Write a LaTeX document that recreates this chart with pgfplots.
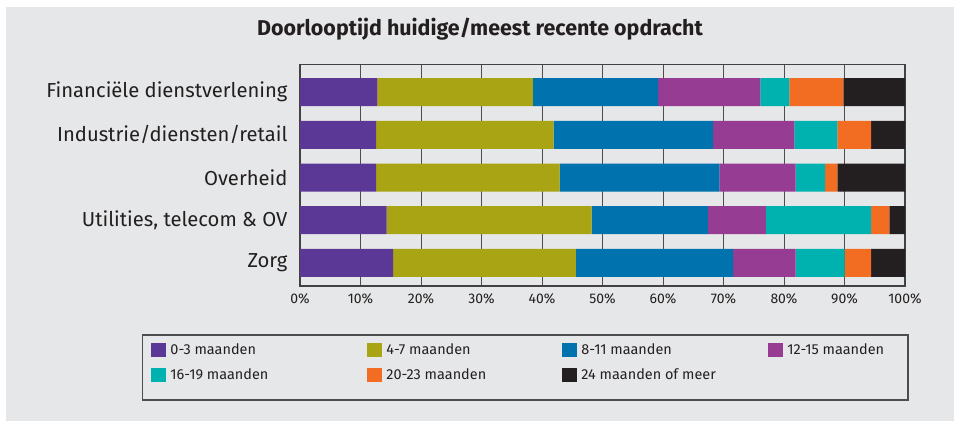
\documentclass[border=0pt]{standalone}
\usepackage{fontspec}
\setmainfont{Fira Sans}
\usepackage{pgfplots}
\pgfplotsset{compat=1.18}
\usepackage{pgfplotstable}

\definecolor{panel}{HTML}{E6E7E8}
\definecolor{inkk}{HTML}{231F20}
\definecolor{gridc}{HTML}{4D4D4F}
\definecolor{cA}{HTML}{5B3896}
\definecolor{cB}{HTML}{A9A413}
\definecolor{cC}{HTML}{0072AE}
\definecolor{cD}{HTML}{963C93}
\definecolor{cE}{HTML}{00B2AF}
\definecolor{cF}{HTML}{F26C22}
\definecolor{cG}{HTML}{231F20}

% y: 4 = Financiele (top) ... 0 = Zorg
\pgfplotstableread{
y   a     b     c     d     e     f    g
4   12.8  25.7  20.7  16.9  4.8   8.9  10.2
3   12.6  29.3  26.4  13.4  7.1   5.6  5.6
2   12.6  30.3  26.4  12.6  4.9   2.0  11.2
1   14.3  33.9  19.2  9.6   17.4  3.0  2.6
0   15.4  30.2  26.0  10.3  8.1   4.4  5.6
}\doorloop

\newcommand{\legbox}[2]{\makebox[#1bp][l]{#2}}

\begin{document}
\begin{tikzpicture}[x=1bp,y=1bp]
  % page and grey panel
  \fill[white] (0,0) rectangle (962,-421);
  \fill[panel] (6,-7) rectangle (954,-421);
  \node[font=\bfseries\fontsize{21.5}{25}\selectfont, text=inkk] at (480,-29) {Doorlooptijd huidige/meest recente opdracht};
  % legend frame
  \draw[gridc, line width=1.2bp] (142.5,-335) rectangle (908,-400);

  \begin{axis}[
    at={(300bp,-286bp)}, anchor=south west,
    scale only axis,
    width=605bp, height=221.7bp,
    xbar stacked,
    bar width=28bp,
    xmin=0, xmax=100,
    ymin=-0.54, ymax=4.65,
    xtick={0,10,...,100},
    xticklabels={0\%,10\%,20\%,30\%,40\%,50\%,60\%,70\%,80\%,90\%,100\%},
    ytick={0,1,2,3,4},
    yticklabels={Zorg, {Utilities, telecom \& OV}, Overheid, Industrie/diensten/retail, Financiële dienstverlening},
    major tick length=0pt,
    xmajorgrids,
    grid style={gridc, line width=1bp},
    axis line style={inkk!85, line width=1.2bp},
    axis background/.style={fill=panel},
    xticklabel style={font=\fontsize{14}{16}\selectfont, text=inkk, yshift=-4bp},
    yticklabel style={font=\fontsize{20.3}{23}\selectfont, text=inkk, xshift=-9bp},
    every axis plot/.append style={draw=none,
      legend image code/.code={\fill[##1] (0bp,-7bp) rectangle (15bp,7bp);}},
    legend style={at={(rel axis cs:-0.2463,-0.2571)}, anchor=north west,
      draw=none, fill=none, inner sep=0pt, outer sep=0pt,
      row sep=11bp, column sep=0pt,
      nodes={inner xsep=0pt, inner ysep=0pt, text=inkk,
        font=\fontsize{14.5}{16}\selectfont}},
    legend columns=4,
    legend cell align=left,
  ]
    \addplot[fill=cA] table[x=a, y=y] {\doorloop};
    \addlegendentry{\legbox{201}{\hspace{4.5bp}0-3 maanden}}
    \addplot[fill=cB] table[x=b, y=y] {\doorloop};
    \addlegendentry{\legbox{180}{\hspace{4.5bp}4-7 maanden}}
    \addplot[fill=cC] table[x=c, y=y] {\doorloop};
    \addlegendentry{\legbox{191}{\hspace{4.5bp}8-11 maanden}}
    \addplot[fill=cD] table[x=d, y=y] {\doorloop};
    \addlegendentry{\hspace{4.5bp}12-15 maanden}
    \addplot[fill=cE] table[x=e, y=y] {\doorloop};
    \addlegendentry{\legbox{201}{\hspace{4.5bp}16-19 maanden}}
    \addplot[fill=cF] table[x=f, y=y] {\doorloop};
    \addlegendentry{\legbox{180}{\hspace{4.5bp}20-23 maanden}}
    \addplot[fill=cG] table[x=g, y=y] {\doorloop};
    \addlegendentry{\legbox{191}{\hspace{4.5bp}24 maanden of meer}}
  \end{axis}
\end{tikzpicture}
\end{document}
